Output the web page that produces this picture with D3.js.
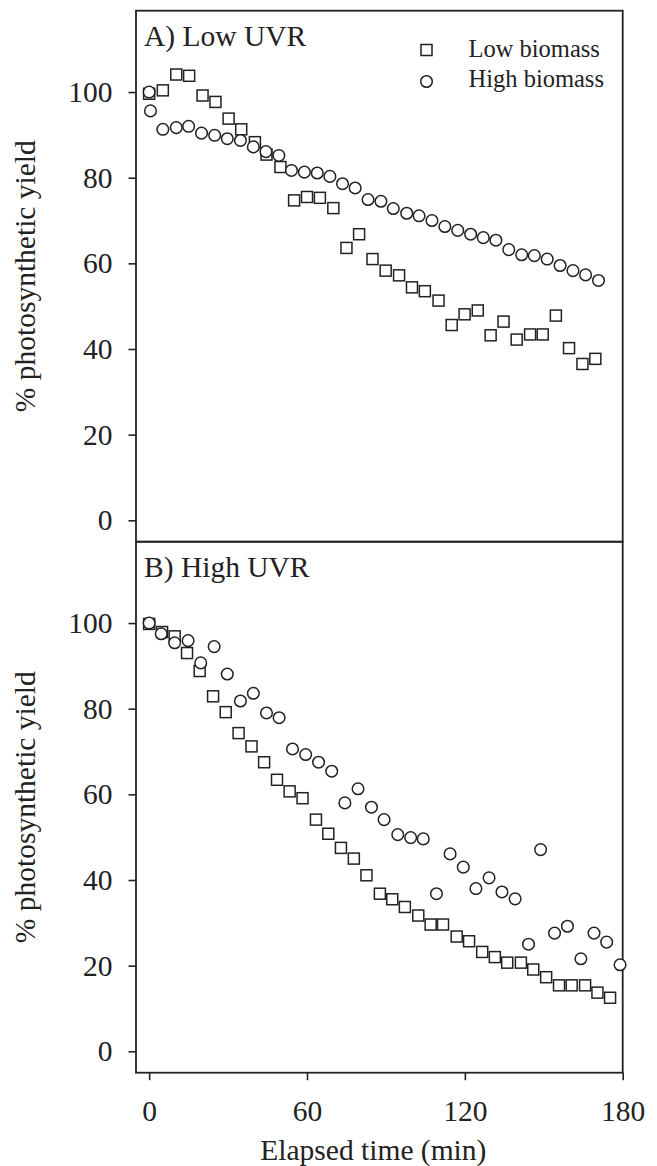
<!DOCTYPE html>
<html>
<head>
<meta charset="utf-8">
<script src="https://cdn.jsdelivr.net/npm/d3@7"></script>
<style>
  body { margin: 0; background: #fff; }
  text { font-family: "Liberation Serif", "Times New Roman", serif; fill: #222; }
</style>
</head>
<body>
<div id="chart"></div>
<script>
// Panel A (Low UVR)
const timeALow = [0, 5.2, 10.3, 15.2, 20.3, 25.2, 30.2, 35.0, 40.2, 44.6, 49.9, 55.1, 60.0, 64.9, 70.0, 75.0, 79.8, 84.9, 89.9, 95.0, 99.9, 104.8, 110.0, 115.0, 119.9, 124.9, 129.8, 134.7, 139.7, 144.8, 149.6, 154.6, 159.6, 164.7, 169.6];
const yieldALow = [99.6, 100.4, 104.1, 103.8, 99.2, 97.7, 93.8, 91.3, 88.3, 85.4, 82.5, 74.7, 75.5, 75.3, 72.9, 63.6, 66.8, 61.0, 58.3, 57.2, 54.4, 53.5, 51.3, 45.6, 48.1, 49.0, 43.2, 46.4, 42.2, 43.4, 43.4, 47.8, 40.2, 36.5, 37.7];
const timeAHigh = [0, 0.5, 5.2, 10.3, 15.0, 19.9, 24.9, 29.7, 34.7, 39.6, 44.4, 49.3, 54.1, 59.0, 63.9, 68.7, 73.5, 78.3, 83.2, 88.1, 92.8, 97.9, 102.6, 107.5, 112.4, 117.3, 122.2, 127.0, 131.8, 136.7, 141.6, 146.4, 151.3, 156.2, 161.1, 165.9, 170.8];
const yieldAHigh = [100.0, 95.6, 91.3, 91.7, 92.0, 90.4, 89.9, 89.1, 88.7, 87.2, 86.1, 85.2, 81.7, 81.3, 81.1, 80.3, 78.6, 77.6, 74.9, 74.5, 72.8, 71.7, 71.1, 70.0, 68.6, 67.7, 66.8, 66.0, 65.4, 63.2, 62.0, 61.8, 61.0, 59.5, 58.3, 57.3, 56.0];

// Panel B (High UVR)
const timeBLow = [0, 4.9, 9.7, 14.4, 19.2, 24.3, 29.1, 34.0, 38.9, 43.7, 48.6, 53.4, 58.3, 63.4, 68.1, 72.9, 77.8, 82.6, 87.7, 92.4, 97.2, 102.3, 107.0, 111.7, 116.9, 121.6, 126.6, 131.4, 136.1, 141.3, 146.0, 150.9, 155.8, 160.6, 165.7, 170.4, 175.2];
const yieldBLow = [99.8, 97.9, 96.9, 93.0, 88.8, 82.9, 79.2, 74.3, 71.2, 67.5, 63.4, 60.7, 59.1, 54.1, 50.8, 47.5, 45.0, 41.1, 36.8, 35.5, 33.7, 31.7, 29.6, 29.6, 26.8, 25.7, 23.2, 22.0, 20.7, 20.7, 19.1, 17.3, 15.4, 15.4, 15.4, 13.7, 12.5];
const timeBHigh = [0, 4.6, 9.7, 14.8, 19.6, 24.7, 29.7, 34.7, 39.6, 44.6, 49.4, 54.5, 59.5, 64.4, 69.4, 74.4, 79.4, 84.5, 89.3, 94.5, 99.4, 104.2, 109.2, 114.4, 119.4, 124.2, 129.2, 134.1, 139.1, 144.2, 148.8, 154.1, 159.0, 164.1, 169.1, 173.9, 179.0];
const yieldBHigh = [100, 97.5, 95.4, 95.9, 90.7, 94.5, 88.1, 81.8, 83.6, 79.0, 77.9, 70.6, 69.3, 67.5, 65.4, 58.0, 61.3, 57.0, 54.1, 50.6, 49.9, 49.6, 36.8, 46.1, 43.0, 38.0, 40.5, 37.2, 35.6, 25.0, 47.1, 27.6, 29.2, 21.6, 27.6, 25.5, 20.2];

const xTicks = [0, 60, 120, 180];
const yTicks = [0, 20, 40, 60, 80, 100];
const seriesNames = ["Low biomass", "High biomass"];

const width = 657, height = 1166;
const left = 136, right = 622.7;
const ink = "#222";
const fs = 29.5; // main text size

const svg = d3.select("#chart").append("svg")
    .attr("width", width)
    .attr("height", height);

const x = d3.scaleLinear().domain([-5, 180]).range([left, right]);

const panels = [
    { title: "A) Low UVR", top: 10.7, bottom: 541.7,
      low: d3.zip(timeALow, yieldALow), high: d3.zip(timeAHigh, yieldAHigh), legend: true },
    { title: "B) High UVR", top: 541.7, bottom: 1072.7,
      low: d3.zip(timeBLow, yieldBLow), high: d3.zip(timeBHigh, yieldBHigh), legend: false }
];

const sq = 11, r = 5.8;

panels.forEach((p, i) => {
    const y = d3.scaleLinear().domain([-5, 119]).range([p.bottom, p.top]);
    const g = svg.append("g");

    // frame
    g.append("rect")
        .attr("x", left).attr("y", p.top)
        .attr("width", right - left).attr("height", p.bottom - p.top)
        .attr("fill", "none").attr("stroke", ink).attr("stroke-width", 1.8);

    // y axis
    const yAxis = g.append("g")
        .attr("transform", `translate(${left},0)`)
        .call(d3.axisLeft(y).tickValues(yTicks).tickSize(7.5).tickPadding(16));
    yAxis.select(".domain").remove();
    yAxis.selectAll("line").attr("stroke", ink).attr("stroke-width", 1.6);
    yAxis.selectAll("text").attr("font-size", fs)
        .attr("font-family", "Liberation Serif").attr("fill", ink);

    // y label
    g.append("text")
        .attr("transform", `translate(35,${(p.top + p.bottom) / 2}) rotate(-90)`)
        .attr("text-anchor", "middle")
        .attr("font-size", fs)
        .text("% photosynthetic yield");

    // panel title
    g.append("text")
        .attr("x", 144).attr("y", p.top + 35.5)
        .attr("font-size", fs)
        .text(p.title);

    // squares: low biomass
    g.append("g").selectAll("rect")
        .data(p.low)
        .enter().append("rect")
        .attr("x", d => x(d[0]) - sq / 2)
        .attr("y", d => y(d[1]) - sq / 2)
        .attr("width", sq).attr("height", sq)
        .attr("fill", "#fff").attr("stroke", ink).attr("stroke-width", 1.5);

    // circles: high biomass
    g.append("g").selectAll("circle")
        .data(p.high)
        .enter().append("circle")
        .attr("cx", d => x(d[0]))
        .attr("cy", d => y(d[1]))
        .attr("r", r)
        .attr("fill", "#fff").attr("stroke", ink).attr("stroke-width", 1.5);

    if (p.legend) {
        const lg = g.append("g").attr("transform", "translate(426.5,0)");
        lg.append("rect").attr("x", -sq / 2).attr("y", 50 - sq / 2)
            .attr("width", sq).attr("height", sq)
            .attr("fill", "#fff").attr("stroke", ink).attr("stroke-width", 1.5);
        lg.append("circle").attr("cx", 0).attr("cy", 81.5).attr("r", r)
            .attr("fill", "#fff").attr("stroke", ink).attr("stroke-width", 1.5);
        lg.selectAll("text.lab")
            .data(seriesNames)
            .enter().append("text")
            .attr("class", "lab")
            .attr("x", 42).attr("y", (d, j) => 57 + j * 30)
            .attr("font-size", 24.5)
            .text(d => d);
    }

    // x axis only on bottom panel
    if (i === 1) {
        const xAxis = g.append("g")
            .attr("transform", `translate(0,${p.bottom})`)
            .call(d3.axisBottom(x).tickValues(xTicks).tickSize(7.5).tickPadding(20));
        xAxis.select(".domain").remove();
        xAxis.selectAll("line").attr("stroke", ink).attr("stroke-width", 1.6);
        xAxis.selectAll("text").attr("font-size", fs)
            .attr("font-family", "Liberation Serif").attr("fill", ink);

        g.append("text")
            .attr("x", (left + right) / 2 - 6).attr("y", 1160)
            .attr("text-anchor", "middle")
            .attr("font-size", fs)
            .text("Elapsed time (min)");
    }
});
</script>
</body>
</html>
